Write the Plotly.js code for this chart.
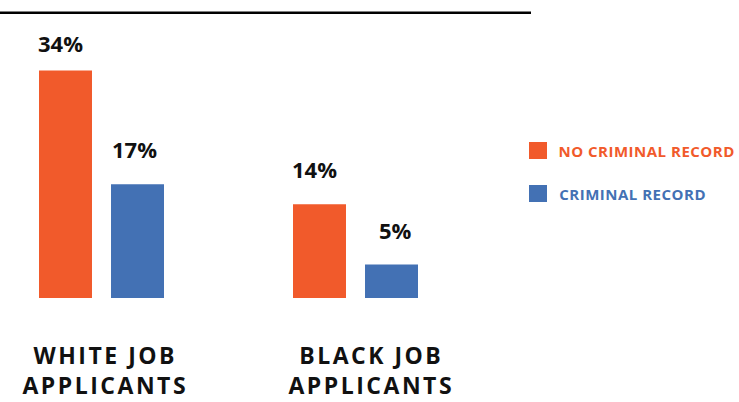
<!DOCTYPE html>
<html>
<head>
<meta charset="utf-8">
<script src="https://cdn.plot.ly/plotly-3.0.1.min.js"></script>
<style>
  html, body { margin: 0; padding: 0; background: #fff; }
  #chart { width: 739px; height: 402px; }
  .annotation[data-index="4"] text, .annotation[data-index="5"] text { letter-spacing: 2.5px; }
  .annotation[data-index="6"] text, .annotation[data-index="7"] text { letter-spacing: 0.5px; }
</style>
</head>
<body>
<div id="chart"></div>
<script>
// ---- data ----
const categories = ['WHITE JOB<br>APPLICANTS', 'BLACK JOB<br>APPLICANTS'];
const seriesNames = ['NO CRIMINAL RECORD', 'CRIMINAL RECORD'];
const noRecord = [34, 14];
const withRecord = [17, 5];

// ---- style ----
const ORANGE = '#F15A2B';
const BLUE = '#4371B4';
const W = 739, H = 402, PLOT_H = 298, PX_PER_UNIT = 254;
const xIdx = categories.map((c, i) => i);
const xmin = -101.5 / PX_PER_UNIT;
const xmax = xmin + W / PX_PER_UNIT;
const ymax = PLOT_H / 6.69;
const py = p => (PLOT_H - p) / PLOT_H; // pixel row -> paper y

const traces = [
  { type: 'bar', name: seriesNames[0], x: xIdx, y: noRecord, marker: { color: ORANGE }, hoverinfo: 'none' },
  { type: 'bar', name: seriesNames[1], x: xIdx, y: withRecord, marker: { color: BLUE }, hoverinfo: 'none' }
];

const annotations = [];
const numFont = { family: 'Open Sans', size: 22, color: '#111', weight: 700 };
const orangeShift = [-41, -41], blueShift = [33, 40];
const orangeY = [28, 35], blueY = [35, 35];
noRecord.forEach((v, i) => annotations.push({
  x: i, y: v, xref: 'x', yref: 'y', text: v + '%', showarrow: false,
  xshift: orangeShift[i], yshift: orangeY[i], yanchor: 'middle', font: numFont
}));
withRecord.forEach((v, i) => annotations.push({
  x: i, y: v, xref: 'x', yref: 'y', text: v + '%', showarrow: false,
  xshift: blueShift[i], yshift: blueY[i], yanchor: 'middle', font: numFont
}));
const catShift = [3.5, 15.5];
const catFont = { family: 'Open Sans', size: 23, color: '#111', weight: 700 };
categories.forEach((c, i) => annotations.push({
  x: i, y: py(369.5), xref: 'x', yref: 'paper', text: c, showarrow: false,
  xshift: catShift[i], yanchor: 'middle', font: catFont
}));
const legColors = [ORANGE, BLUE];
const legY = [150.5, 193.5];
seriesNames.forEach((n, i) => annotations.push({
  x: 561 / W, y: py(legY[i]), xref: 'paper', yref: 'paper', text: n, showarrow: false,
  xanchor: 'left', yanchor: 'middle', font: { family: 'Open Sans', size: 15, color: legColors[i], weight: 700 }
}));

const shapes = [
  { type: 'line', xref: 'paper', yref: 'paper', x0: 0, x1: 531 / W, y0: py(12.8), y1: py(12.8),
    line: { color: '#000', width: 2.5 } }
];
seriesNames.forEach((n, i) => shapes.push({
  type: 'rect', xref: 'paper', yref: 'paper',
  x0: 529 / W, x1: 547 / W, y0: py(legY[i] - 8.5), y1: py(legY[i] + 8.5),
  fillcolor: legColors[i], line: { width: 0 }
}));

const layout = {
  width: W, height: H,
  margin: { l: 0, r: 0, t: 0, b: H - PLOT_H, pad: 0 },
  paper_bgcolor: '#fff', plot_bgcolor: '#fff',
  barmode: 'group', bargap: 0.433, bargroupgap: 0.264,
  showlegend: false,
  xaxis: { range: [xmin, xmax], visible: false, fixedrange: true },
  yaxis: { range: [0, ymax], visible: false, fixedrange: true },
  annotations: annotations,
  shapes: shapes
};

Plotly.newPlot('chart', traces, layout, { staticPlot: true, displayModeBar: false });
</script>
</body>
</html>
